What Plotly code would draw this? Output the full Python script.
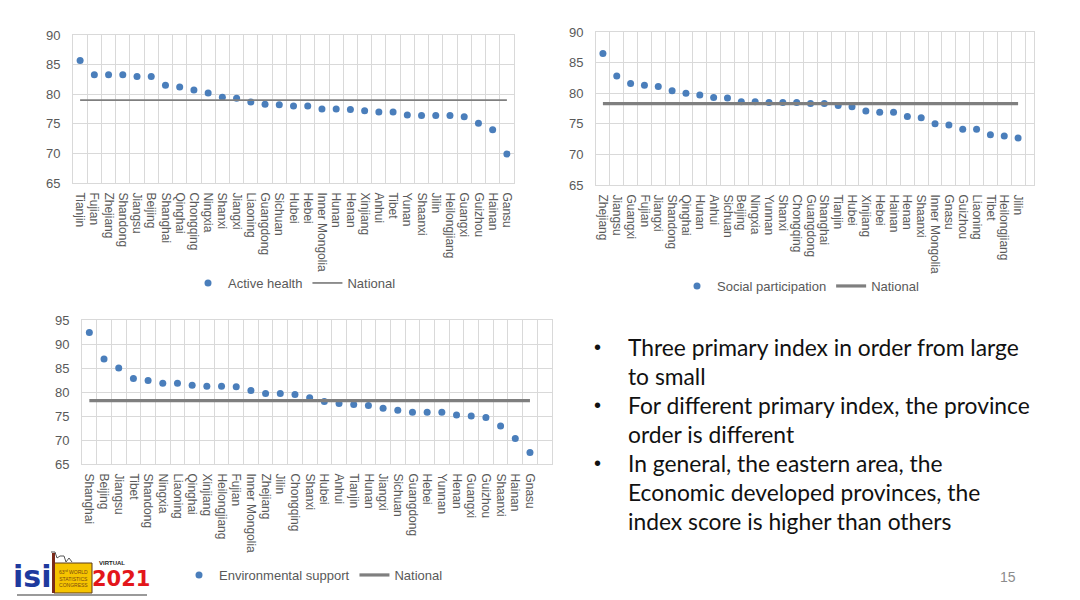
import plotly.graph_objects as go

W, H = 1080, 600
OFF = 8  # page body margin of the browser

# ---------------- data ----------------
cats_active = ["Tianjin", "Fujian", "Zhejiang", "Shandong", "Jiangsu", "Beijing", "Shanghai",
               "Qinghai", "Chongqing", "Ningxia", "Shanxi", "Jiangxi", "Liaoning", "Guangdong",
               "Sichuan", "Hubei", "Hebei", "Inner Mongolia", "Hunan", "Henan", "Xinjiang",
               "Anhui", "Tibet", "Yunan", "Shaanxi", "Jilin", "Heilongjiang", "Guangxi",
               "Guizhou", "Hainan", "Gansu"]
vals_active = [85.7, 83.3, 83.3, 83.3, 83.0, 83.0, 81.5, 81.2, 80.7, 80.2, 79.5, 79.3, 78.7,
               78.3, 78.2, 78.0, 78.0, 77.5, 77.5, 77.4, 77.2, 77.0, 77.0, 76.5, 76.4, 76.4,
               76.4, 76.2, 75.1, 74.0, 69.9]
national_active = 79.0

cats_social = ["Zhejiang", "Jiangsu", "Guangxi", "Fujian", "Jiangxi", "Shandong", "Qinghai",
               "Hunan", "Anhui", "Sichuan", "Beijing", "Ningxia", "Yunnan", "Shanxi",
               "Chongqing", "Guangdong", "Shanghai", "Tianjin", "Hubei", "Xinjiang", "Hebei",
               "Hainan", "Henan", "Shaanxi", "Inner Mongolia", "Gnasu", "Guizhou", "Liaoning",
               "Tibet", "Heilongjiang", "Jilin"]
vals_social = [86.5, 82.8, 81.6, 81.3, 81.1, 80.4, 80.0, 79.7, 79.3, 79.2, 78.6, 78.6, 78.5,
               78.5, 78.5, 78.3, 78.3, 78.0, 77.8, 77.1, 76.9, 76.9, 76.2, 76.0, 75.0, 74.8,
               74.1, 74.1, 73.2, 73.0, 72.7]
national_social = 78.3

cats_env = ["Shanghai", "Beijing", "Jiangsu", "Tibet", "Shandong", "Ningxia", "Liaoning",
            "Qinghai", "Xinjiang", "Heilongjiang", "Fujian", "Inner Mongolia", "Zhejiang",
            "Jilin", "Chongqing", "Shanxi", "Hubei", "Anhui", "Tianjin", "Hunan", "Jiangxi",
            "Sichuan", "Guangdong", "Hebei", "Yunnan", "Henan", "Guangxi", "Guizhou",
            "Shaanxi", "Hainan", "Gnasu"]
vals_env = [92.4, 86.9, 85.0, 82.8, 82.4, 81.8, 81.8, 81.4, 81.2, 81.2, 81.1, 80.3, 79.7,
            79.7, 79.5, 78.8, 78.0, 77.6, 77.4, 77.2, 76.6, 76.2, 75.8, 75.8, 75.8, 75.2,
            75.0, 74.7, 72.9, 70.3, 67.4]
national_env = 78.2

bullets = [
    ["Three primary index in order from large", "to small"],
    ["For different primary index, the province", "order is different"],
    ["In general, the eastern area, the", "Economic developed provinces, the",
     "index score is higher than others"],
]

# ---------------- style ----------------
BLUE = "#4a7ebb"
GREY_LINE = "#7f7f7f"
GRID = "#d9d9d9"
TICK = "#595959"
AXFONT = "Liberation Sans, Arial, sans-serif"


def px_x(x):
    return (x - OFF) / W


def px_y(y):
    return 1 - (y - OFF) / H


fig = go.Figure()

panels = [
    ("Active health", cats_active, vals_active, national_active, "", "legend", 1.7,
     (73, 514, 35, 183), [65, 90], 30.5, False),
    ("Social participation", cats_social, vals_social, national_social, "2", "legend2", 3.2,
     (596, 1034, 32, 185), [65, 90], 31.15, True),
    ("Environmental support", cats_env, vals_env, national_env, "3", "legend3", 3.2,
     (82, 552, 320, 464), [65, 95], 31.5, True),
]

for name, cats, vals, nat, sfx, leg, lw, dom, yr, xend, extra in panels:
    xa = "x" + sfx
    ya = "y" + sfx
    fig.add_trace(go.Scatter(
        x=cats, y=vals, mode="markers", name=name,
        marker=dict(color=BLUE, size=7),
        xaxis=xa, yaxis=ya, legend=leg, hoverinfo="x+y"))
    fig.add_trace(go.Scatter(
        x=cats, y=[nat] * len(cats), mode="lines", name="National",
        line=dict(color=GREY_LINE, width=lw),
        xaxis=xa, yaxis=ya, legend=leg, hoverinfo="y"))
    x0, x1, y0, y1 = dom
    carr = list(cats) + ([" "] if extra else [])
    fig.layout["xaxis" + sfx] = dict(
        domain=[px_x(x0), px_x(x1)], anchor=ya, type="category",
        categoryorder="array", categoryarray=carr,
        range=[-0.5, xend], tickson="boundaries", tickmode="linear", tick0=0, dtick=1,
        showgrid=True, gridcolor=GRID, gridwidth=1,
        showline=True, linecolor=GRID, linewidth=1, mirror=True,
        ticks="", tickangle=90, ticklabelstandoff=6, automargin=False,
        tickfont=dict(family=AXFONT, size=12, color=TICK),
        zeroline=False, fixedrange=True)
    fig.layout["yaxis" + sfx] = dict(
        domain=[px_y(y1), px_y(y0)], anchor=xa, range=yr, dtick=5,
        showgrid=True, gridcolor=GRID, gridwidth=1,
        showline=True, linecolor=GRID, linewidth=1, mirror=True,
        ticks="", ticklabelstandoff=9, automargin=False,
        tickfont=dict(family=AXFONT, size=13, color=TICK),
        zeroline=False, fixedrange=True)

legfont = dict(family=AXFONT, size=13, color=TICK)
common_leg = dict(orientation="h", font=legfont, bgcolor="rgba(0,0,0,0)",
                  xanchor="left", yanchor="middle", itemclick=False,
                  itemdoubleclick=False, tracegroupgap=0, itemwidth=30)
fig.update_layout(
    legend=dict(x=px_x(188), y=px_y(283), **common_leg),
    legend2=dict(x=px_x(677), y=px_y(286), **common_leg),
    legend3=dict(x=px_x(179), y=px_y(575), **common_leg),
)

# ---------------- bullet text ----------------
annotations = []
BODY_FONT = "Lato, 'Open Sans', sans-serif"
line_y = 347
step = 29
for para in bullets:
    annotations.append(dict(x=px_x(597), y=px_y(line_y), xref="paper", yref="paper",
                            text="•", showarrow=False, xanchor="center", yanchor="middle",
                            font=dict(family="Arial", size=20, color="#111111")))
    for ln in para:
        annotations.append(dict(x=px_x(626), y=px_y(line_y), xref="paper", yref="paper",
                                text=ln, showarrow=False, xanchor="left", yanchor="middle",
                                font=dict(family=BODY_FONT, size=22.8, color="#111111")))
        line_y += step

# page number
annotations.append(dict(x=px_x(1008), y=px_y(577), xref="paper", yref="paper", text="15",
                        showarrow=False, xanchor="center", yanchor="middle",
                        font=dict(family=AXFONT, size=14, color="#8c8c8c")))

# ---------------- logo ----------------
annotations += [
    dict(x=px_x(32), y=px_y(576), xref="paper", yref="paper", text="<b>isi</b>",
         showarrow=False, xanchor="center", yanchor="middle",
         font=dict(family="DejaVu Sans", size=30, color="#1e3a9e")),
    dict(x=px_x(73), y=px_y(578), xref="paper", yref="paper",
         text="63<sup>rd</sup> WORLD<br>STATISTICS<br>CONGRESS", showarrow=False,
         xanchor="center", yanchor="middle",
         font=dict(family="Liberation Sans Narrow, Liberation Sans", size=5, color="#7a4a10")),
    dict(x=px_x(97), y=px_y(563), xref="paper", yref="paper", text="<b>VIRTUAL</b>",
         showarrow=False, xanchor="left", yanchor="middle",
         font=dict(family="Liberation Sans", size=6, color="#222222")),
    dict(x=px_x(121), y=px_y(579), xref="paper", yref="paper", text="<b>2021</b>",
         showarrow=False, xanchor="center", yanchor="middle",
         font=dict(family="DejaVu Sans", size=21, color="#e3161b")),
]

shapes = [
    dict(type="rect", xref="paper", yref="paper", x0=px_x(54), x1=px_x(92),
         y0=px_y(593), y1=px_y(563), fillcolor="#f6c400",
         line=dict(color="#5a3a1a", width=1)),
    dict(type="rect", xref="paper", yref="paper", x0=px_x(52), x1=px_x(55),
         y0=px_y(593), y1=px_y(553), fillcolor="#7a2a1a", line=dict(width=0)),
    dict(type="path", xref="paper", yref="paper",
         path=(f"M {px_x(51)} {px_y(552)} L {px_x(55)} {px_y(552)} L {px_x(57)} {px_y(558)} "
               f"L {px_x(60)} {px_y(556)} L {px_x(64)} {px_y(556)} L {px_x(66)} {px_y(562)} "
               f"L {px_x(69)} {px_y(558)} L {px_x(72)} {px_y(562)}"),
         line=dict(color="#555555", width=1)),
    dict(type="line", xref="paper", yref="paper", x0=px_x(17), x1=px_x(147),
         y0=px_y(595), y1=px_y(595), line=dict(color="#9a9a9a", width=2)),
]

fig.update_layout(
    width=W, height=H, margin=dict(l=0, r=0, t=0, b=0, autoexpand=False),
    paper_bgcolor="white", plot_bgcolor="white",
    showlegend=True, annotations=annotations, shapes=shapes,
    font=dict(family=AXFONT, color=TICK),
)

fig.write_html("out.html", config={"displayModeBar": False})
